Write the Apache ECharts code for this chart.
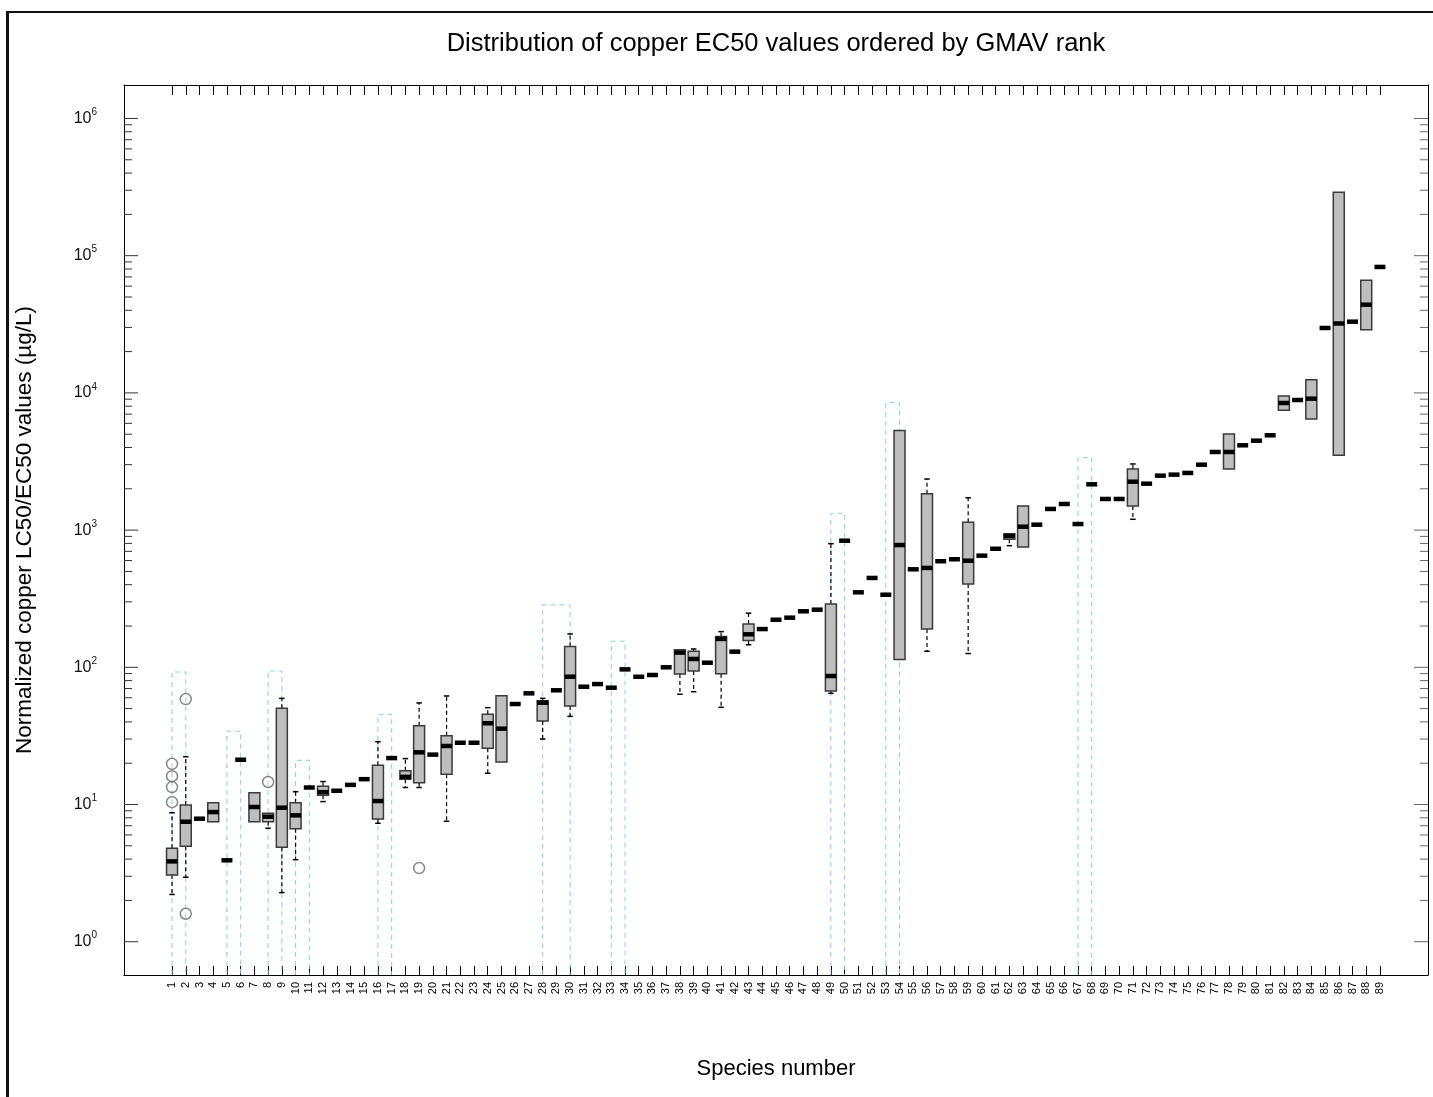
<!DOCTYPE html>
<html>
<head>
<meta charset="utf-8">
<title>Copper EC50 by GMAV rank</title>
<script src="https://cdn.jsdelivr.net/npm/echarts@6/dist/echarts.min.js"></script>
<style>
  html, body { margin: 0; padding: 0; background: #fff; }
  #main { width: 1433px; height: 1097px; }
</style>
</head>
<body>
<div id="main"></div>
<script>
// species rank 1..89 (x categories)
var species = Array.from({ length: 89 }, function (_, i) { return String(i + 1); });

// box statistics per species (null = no box / no whisker)
var whiskerLow = [2.21, 2.95, null, null, null, null, null, 6.71, 2.28, 3.96,
  null, 10.5, null, null, null, 7.3, null, 13.3, 13.3, null,
  7.55, null, null, 16.9, null, null, null, 30.0, null, 43.9,
  null, null, null, null, null, null, null, 63.6, 66.4, null,
  51.1, null, 146, null, null, null, null, null, 64.6, null,
  null, null, null, null, null, 131, null, null, 126, null,
  null, 770, null, null, null, null, null, null, null, null,
  1199, null, null, null, null, null, null, null, null, null,
  null, null, null, null, null, null, null, null, null];
var boxLow = [3.06, 4.96, null, 7.5, null, null, 7.5, 7.5, 4.88, 6.66,
  null, 11.7, null, null, null, 7.84, null, 15.3, 14.4, null,
  16.6, null, null, 25.7, 20.4, null, null, 40.6, null, 52.2,
  null, null, null, null, null, null, null, 89.4, 94, null,
  89.8, null, 157, null, null, null, null, null, 67.2, null,
  null, null, null, 114, null, 190, null, null, 405, null,
  null, 857, 753, null, null, null, null, null, null, null,
  1500, null, null, null, null, null, null, 2788, null, null,
  null, 7463, null, 6454, null, 3510, null, 28800, null];
var medians = [3.85, 7.49, 7.88, 8.81, 3.92, 21.2, 9.59, 8.15, 9.48, 8.34,
  13.3, 12.3, 12.6, 13.9, 15.3, 10.6, 21.8, 15.9, 24.0, 23.1,
  26.7, 28.2, 28.2, 39.1, 35.7, 54.0, 64.6, 55.2, 68.0, 85.4,
  72.2, 75.5, 71.0, 96.6, 85.3, 87.9, 100, 128, 115, 108,
  161, 130, 174, 190, 222, 230, 256, 263, 86.4, 837,
  352, 448, 338, 778, 518, 530, 593, 613, 598, 651,
  731, 906, 1059, 1095, 1426, 1550, 1107, 2157, 1686, 1686,
  2253, 2179, 2493, 2536, 2609, 2997, 3710, 3710, 4150, 4484,
  4909, 8440, 8875, 9075, 29720, 32060, 33040, 43950, 82800];
var boxHigh = [4.8, 9.9, null, 10.3, null, null, 12.2, 8.63, 50.3, 10.3,
  null, 13.6, null, null, null, 19.3, null, 17.6, 37.5, null,
  31.7, null, null, 45.4, 62.1, null, null, 57.1, null, 142,
  null, null, null, null, null, null, null, 134, 131, null,
  168, null, 207, null, null, null, null, null, 289, null,
  null, null, null, 5330, null, 1842, null, null, 1140, null,
  null, 942, 1500, null, null, null, null, null, null, null,
  2788, null, null, null, null, null, null, 5012, null, null,
  null, 9502, null, 12470, null, 289700, null, 66200, null];
var whiskerHigh = [8.71, 22.3, null, null, null, null, null, null, 59.4, 12.4,
  null, 14.7, null, null, null, 28.7, null, 21.6, 55, null,
  61.8, null, null, 50.8, null, null, null, 59.4, null, 175,
  null, null, null, null, null, null, null, null, 136, null,
  182, null, 248, null, null, null, null, null, 796, null,
  null, null, null, null, null, 2357, null, null, 1722, null,
  null, null, null, null, null, null, null, null, null, null,
  3033, null, null, null, null, null, null, null, null, null,
  null, null, null, null, null, null, null, null, null];

// outliers
var outlierSpecies = [1, 1, 1, 1, 2, 2, 8, 19];
var outlierValues = [10.4, 13.4, 16.1, 19.8, 58.7, 1.6, 14.6, 3.44];

// dashed blue brackets (species span and top value)
var bracketStart = [1, 5, 8, 10, 16, 28, 33, 49, 53, 67];
var bracketEnd = [2, 6, 9, 11, 17, 30, 34, 50, 54, 68];
var bracketTop = [92.4, 34.2, 94, 21.0, 45.4, 285, 155, 1325, 8490, 3370];

// log axis decades
var yDecades = [1, 10, 100, 1000, 10000, 100000, 1000000];
var yMinorMult = [2, 3, 4, 5, 6, 7, 8, 9];
var Y_MIN = 0.572, Y_MAX = 1754000;

var PAD = 3;
var xCats = ['', '', ''].concat(species).concat(['', '', '']);
function xi(s) { return s - 1 + PAD; }

var boxData = medians.map(function (m, i) { return [xi(i + 1), m]; });
var outlierData = outlierSpecies.map(function (s, i) { return [xi(s), outlierValues[i]]; });
var bracketData = bracketStart.map(function (s, i) { return [xi(s), bracketTop[i], xi(bracketEnd[i])]; });
var yTickData = [];
yDecades.forEach(function (d, k) {
  yTickData.push([PAD, d, 14]);
  if (k < yDecades.length - 1) {
    yMinorMult.forEach(function (m) { yTickData.push([PAD, m * d, 8]); });
  }
});

function renderBox(params, api) {
  var i = params.dataIndex;
  var x = api.value(0);
  var w = api.size([1, 0])[0] * 0.8;
  var pm = api.coord([x, medians[i]]);
  var cx = pm[0];
  var kids = [];
  var dash = { stroke: '#000', lineWidth: 1.2, lineDash: [4, 3] };
  var cap = { stroke: '#000', lineWidth: 1.5 };
  if (whiskerHigh[i] != null) {
    var a = api.coord([x, boxHigh[i]])[1], b = api.coord([x, whiskerHigh[i]])[1];
    kids.push({ type: 'line', shape: { x1: cx, y1: a, x2: cx, y2: b }, style: dash });
    kids.push({ type: 'line', shape: { x1: cx - w / 4, y1: b, x2: cx + w / 4, y2: b }, style: cap });
  }
  if (whiskerLow[i] != null) {
    var c = api.coord([x, boxLow[i]])[1], d = api.coord([x, whiskerLow[i]])[1];
    kids.push({ type: 'line', shape: { x1: cx, y1: c, x2: cx, y2: d }, style: dash });
    kids.push({ type: 'line', shape: { x1: cx - w / 4, y1: d, x2: cx + w / 4, y2: d }, style: cap });
  }
  if (boxLow[i] != null) {
    var top = api.coord([x, boxHigh[i]])[1], bot = api.coord([x, boxLow[i]])[1];
    kids.push({ type: 'rect', shape: { x: cx - w / 2, y: top, width: w, height: bot - top },
      style: { fill: '#bebebe', stroke: '#3a3a3a', lineWidth: 1.5 } });
  }
  kids.push({ type: 'rect', shape: { x: cx - w / 2, y: pm[1] - 2.25, width: w, height: 4.5 },
    style: { fill: '#000' } });
  return { type: 'group', children: kids };
}

function renderBracket(params, api) {
  var p1 = api.coord([api.value(0), api.value(1)]);
  var p2 = api.coord([api.value(2), api.value(1)]);
  var yb = api.coord([api.value(0), Y_MIN])[1];
  return {
    type: 'polyline',
    shape: { points: [[p1[0], yb], [p1[0], p1[1]], [p2[0], p2[1]], [p2[0], yb]] },
    style: { stroke: '#8ccfe8', lineWidth: 1, lineDash: [5, 4], fill: null }
  };
}

function renderYTick(params, api) {
  var cs = params.coordSys;
  var y = api.coord([api.value(0), api.value(1)])[1];
  var len = api.value(2);
  return { type: 'group', children: [
    { type: 'line', shape: { x1: cs.x, y1: y, x2: cs.x + len, y2: y }, style: { stroke: '#333', lineWidth: 1 } },
    { type: 'line', shape: { x1: cs.x + cs.width - len, y1: y, x2: cs.x + cs.width, y2: y }, style: { stroke: '#666', lineWidth: 1 } }
  ] };
}

function isDecade(v) {
  var l = Math.log10(v);
  return Math.abs(l - Math.round(l)) < 1e-6;
}

var FONT = 'Liberation Sans, Arial, sans-serif';
var tickFilter = function (idx) { return idx >= PAD && idx < PAD + species.length; };

var myChart = echarts.init(document.getElementById('main'));
var option = {
  animation: false,
  backgroundColor: '#fff',
  grid: { left: 124, right: 5, top: 85, bottom: 122, containLabel: false, outerBoundsMode: 'none' },
  xAxis: [{
    type: 'category', data: xCats, position: 'bottom', boundaryGap: true,
    axisLine: { show: true, lineStyle: { color: '#000', width: 1 } },
    axisTick: { show: true, inside: true, length: 9, alignWithLabel: true, interval: tickFilter, lineStyle: { color: '#000' } },
    axisLabel: { show: true, interval: 0, rotate: 90, margin: 7, fontSize: 11, fontFamily: FONT, color: '#000' },
    splitLine: { show: false }
  }, {
    type: 'category', data: xCats, position: 'top', boundaryGap: true,
    axisLine: { show: true, lineStyle: { color: '#000', width: 1 } },
    axisTick: { show: true, inside: true, length: 10, alignWithLabel: true, interval: tickFilter, lineStyle: { color: '#000' } },
    axisLabel: { show: false },
    splitLine: { show: false }
  }],
  yAxis: [{
    type: 'log', logBase: 10, min: Y_MIN, max: Y_MAX, position: 'left',
    axisLine: { show: true, lineStyle: { color: '#000', width: 1 } },
    axisTick: { show: false },
    splitLine: { show: false },
    axisLabel: {
      show: true, margin: 27, showMinLabel: true, showMaxLabel: true,
      formatter: function (v) {
        if (!isDecade(v)) return '';
        return '{b|10}{s|' + Math.round(Math.log10(v)) + '}';
      },
      rich: {
        b: { fontSize: 16, fontFamily: FONT, color: '#111' },
        s: { fontSize: 10, fontFamily: FONT, color: '#111', padding: [0, 0, 12, 0] }
      }
    }
  }, {
    type: 'log', logBase: 10, min: Y_MIN, max: Y_MAX, position: 'right',
    axisLine: { show: true, lineStyle: { color: '#000', width: 1 } },
    axisTick: { show: false }, axisLabel: { show: false }, splitLine: { show: false }
  }],
  graphic: [
    { type: 'rect', shape: { x: 6, y: 11, width: 3, height: 1086 }, style: { fill: '#111' } },
    { type: 'rect', shape: { x: 6, y: 11, width: 1427, height: 2 }, style: { fill: '#111' } },
    { type: 'text', x: 776, y: 44, style: { text: 'Distribution of copper EC50 values ordered by GMAV rank',
        font: '25.5px ' + FONT, fill: '#000', align: 'center', verticalAlign: 'middle' } },
    { type: 'text', x: 776, y: 1069, style: { text: 'Species number',
        font: '22px ' + FONT, fill: '#000', align: 'center', verticalAlign: 'middle' } },
    { type: 'text', x: 25, y: 530, rotation: Math.PI / 2, style: { text: 'Normalized copper LC50/EC50 values (\u00b5g/L)',
        font: '22.5px ' + FONT, fill: '#000', align: 'center', verticalAlign: 'middle' } }
  ],
  series: [{
    type: 'custom', name: 'ticks', xAxisIndex: 0, yAxisIndex: 0,
    renderItem: renderYTick, data: yTickData, silent: true, clip: false
  }, {
    type: 'custom', name: 'brackets', xAxisIndex: 0, yAxisIndex: 0,
    renderItem: renderBracket, data: bracketData, silent: true
  }, {
    type: 'custom', name: 'boxes', xAxisIndex: 0, yAxisIndex: 0,
    renderItem: renderBox, data: boxData, silent: true
  }, {
    type: 'scatter', name: 'outliers', xAxisIndex: 0, yAxisIndex: 0,
    data: outlierData, symbol: 'circle', symbolSize: 11,
    itemStyle: { color: 'rgba(0,0,0,0)', borderColor: '#666', borderWidth: 1.5 }
  }]
};
myChart.setOption(option);
window.onresize = myChart.resize;
</script>
</body>
</html>
